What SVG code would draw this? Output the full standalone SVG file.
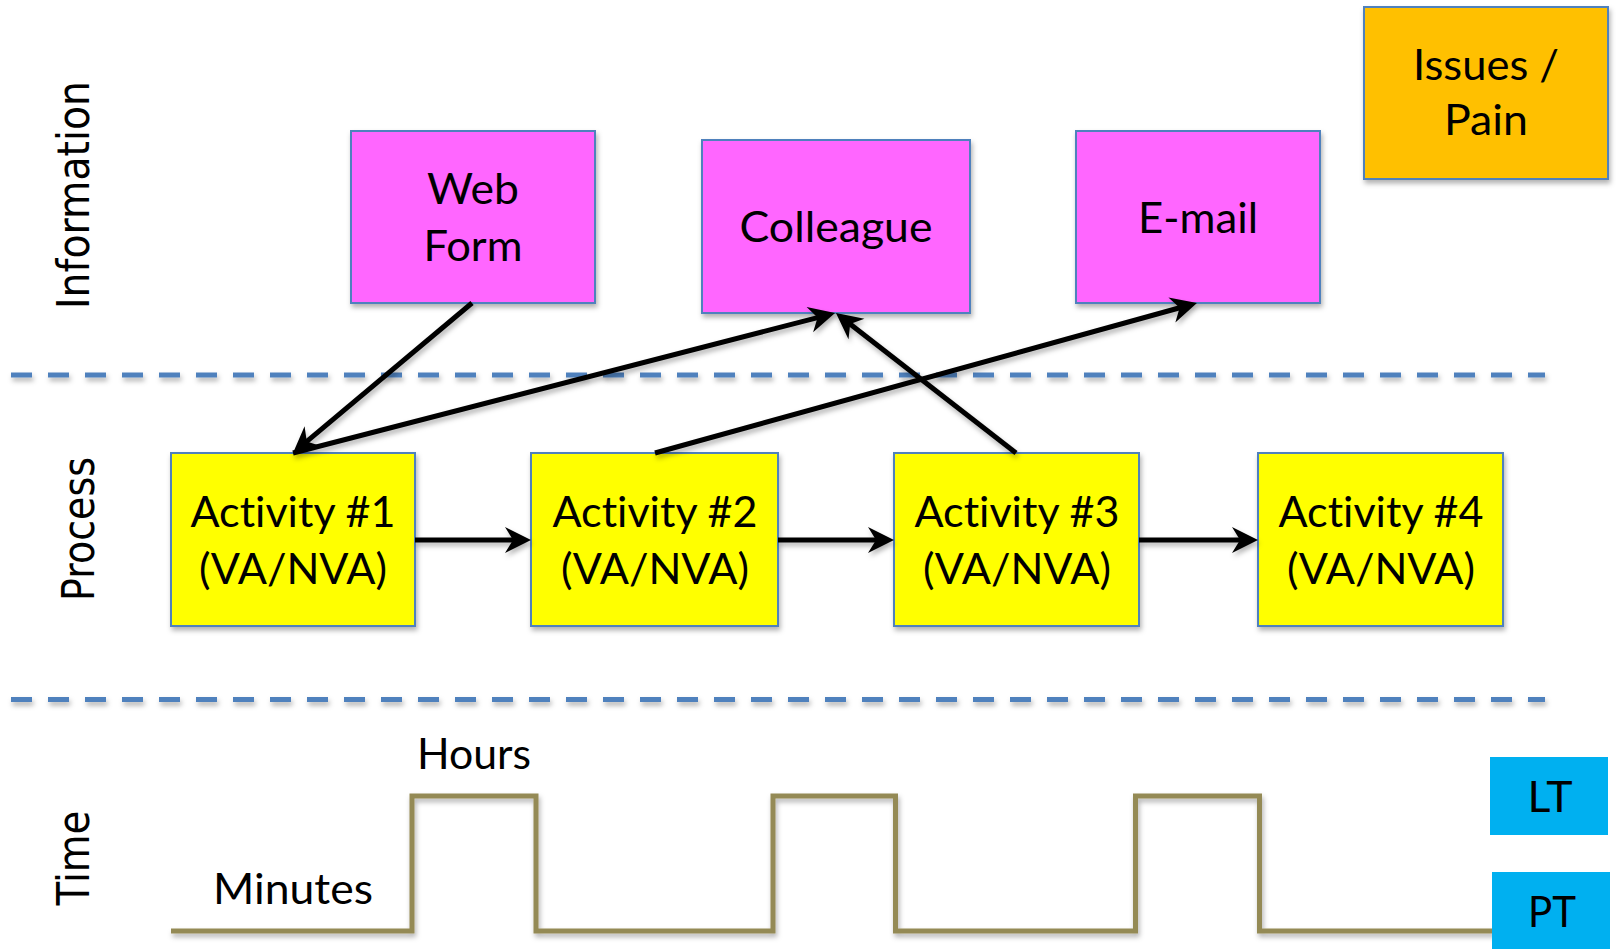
<svg xmlns="http://www.w3.org/2000/svg" width="1618" height="949" viewBox="0 0 1618 949">
  <style>
    .box { stroke: #4F81BD; stroke-width: 2; filter: url(#shadow); }
    .info { fill: #FF66FF; }
    .act { fill: #FFFF00; }
    .issue { fill: #FFC000; }
    .tbox { fill: #00B0F0; }
    .lbl { font-family: Lato, "Liberation Sans", sans-serif; font-size: 43px; fill: #000; text-anchor: middle; font-variant-ligatures: none; }
    .lane { font-family: "DejaVu Sans", Verdana, sans-serif; font-size: 45px; fill: #000; text-anchor: middle; }
    .sep { stroke: #4F81BD; stroke-width: 5; stroke-dasharray: 21 16; fill: none; }
    .conn { stroke: #000; stroke-width: 5; fill: none; marker-end: url(#arrow); }
    .wave { stroke: #948A54; stroke-width: 5; fill: none; }
  </style>
  <defs>
    <filter id="shadow" x="-10%" y="-10%" width="120%" height="140%">
      <feDropShadow dx="1.5" dy="3.5" stdDeviation="2.5" flood-color="#000" flood-opacity="0.3"/>
    </filter>
    <!-- canvas-sized region so zero-height lines still get a shadow -->
    <filter id="lineShadow" filterUnits="userSpaceOnUse" x="0" y="0" width="1618" height="949">
      <feDropShadow dx="1.5" dy="3.5" stdDeviation="2.5" flood-color="#000" flood-opacity="0.3"/>
    </filter>
    <marker id="arrow" markerUnits="userSpaceOnUse" orient="auto" refX="-15" refY="0" overflow="visible">
      <path d="M0,0 L-26,-13 L-18,0 L-26,13 Z" fill="#000"/>
    </marker>
  </defs>

  <!-- swimlane titles -->
  <g id="lane-information"><text class="lane" transform="translate(89,195) rotate(-90)" textLength="228" lengthAdjust="spacingAndGlyphs">Information</text></g>
  <g id="lane-process"><text class="lane" transform="translate(94,529) rotate(-90)" textLength="144" lengthAdjust="spacingAndGlyphs">Process</text></g>
  <g id="lane-time"><text class="lane" transform="translate(89,858) rotate(-90)" textLength="95" lengthAdjust="spacingAndGlyphs">Time</text></g>

  <!-- lane separators -->
  <g id="separators" filter="url(#lineShadow)">
    <line class="sep" x1="11" y1="375" x2="1545" y2="375"/>
    <line class="sep" x1="11" y1="699.5" x2="1545" y2="699.5"/>
  </g>

  <!-- information sources -->
  <g id="web-form">
    <rect class="box info" x="351" y="131" width="244" height="172"/>
    <text class="lbl" x="473" y="204" textLength="92" lengthAdjust="spacingAndGlyphs">Web</text>
    <text class="lbl" x="473" y="261" textLength="99" lengthAdjust="spacingAndGlyphs">Form</text>
  </g>
  <g id="colleague">
    <rect class="box info" x="702" y="140" width="268" height="173"/>
    <text class="lbl" x="836" y="242" textLength="193" lengthAdjust="spacingAndGlyphs">Colleague</text>
  </g>
  <g id="email">
    <rect class="box info" x="1076" y="131" width="244" height="172"/>
    <text class="lbl" x="1198" y="233" textLength="120" lengthAdjust="spacingAndGlyphs">E-mail</text>
  </g>
  <g id="issues">
    <rect class="box issue" x="1364" y="7" width="244" height="172"/>
    <text class="lbl" x="1486" y="80" textLength="146" lengthAdjust="spacingAndGlyphs">Issues /</text>
    <text class="lbl" x="1486" y="135" textLength="84" lengthAdjust="spacingAndGlyphs">Pain</text>
  </g>

  <!-- process activities -->
  <g id="activity-1">
    <rect class="box act" x="171" y="453" width="244" height="173"/>
    <text class="lbl" x="293" y="527" textLength="205" lengthAdjust="spacingAndGlyphs">Activity #1</text>
    <text class="lbl" x="293" y="584" textLength="188" lengthAdjust="spacingAndGlyphs">(VA/NVA)</text>
  </g>
  <g id="activity-2">
    <rect class="box act" x="531" y="453" width="247" height="173"/>
    <text class="lbl" x="655" y="527" textLength="205" lengthAdjust="spacingAndGlyphs">Activity #2</text>
    <text class="lbl" x="655" y="584" textLength="188" lengthAdjust="spacingAndGlyphs">(VA/NVA)</text>
  </g>
  <g id="activity-3">
    <rect class="box act" x="894" y="453" width="245" height="173"/>
    <text class="lbl" x="1017" y="527" textLength="205" lengthAdjust="spacingAndGlyphs">Activity #3</text>
    <text class="lbl" x="1017" y="584" textLength="188" lengthAdjust="spacingAndGlyphs">(VA/NVA)</text>
  </g>
  <g id="activity-4">
    <rect class="box act" x="1258" y="453" width="245" height="173"/>
    <text class="lbl" x="1381" y="527" textLength="205" lengthAdjust="spacingAndGlyphs">Activity #4</text>
    <text class="lbl" x="1381" y="584" textLength="188" lengthAdjust="spacingAndGlyphs">(VA/NVA)</text>
  </g>

  <!-- connectors (lines stop short; marker carries the tip forward) -->
  <g id="connectors" filter="url(#lineShadow)">
    <line class="conn" x1="472" y1="303" x2="304.5" y2="443.4"/>
    <line class="conn" x1="293" y1="453" x2="820.5" y2="316.8"/>
    <line class="conn" x1="655" y1="453" x2="1182.5" y2="307"/>
    <line class="conn" x1="1016" y1="453" x2="847.8" y2="322.2"/>
    <line class="conn" x1="415" y1="540" x2="516" y2="540"/>
    <line class="conn" x1="778" y1="540" x2="879" y2="540"/>
    <line class="conn" x1="1139" y1="540" x2="1243" y2="540"/>
  </g>

  <!-- time line: waiting (minutes) vs. working (hours) -->
  <g id="timeline">
    <polyline class="wave" filter="url(#lineShadow)" points="171,931 412,931 412,796 536,796 536,931 773,931 773,796 895.5,796 895.5,931 1135.5,931 1135.5,796 1259.5,796 1259.5,931 1495,931"/>
    <text class="lbl" x="474" y="769" textLength="114" lengthAdjust="spacingAndGlyphs">Hours</text>
    <text class="lbl" x="293" y="904" textLength="160" lengthAdjust="spacingAndGlyphs">Minutes</text>
  </g>
  <g id="lt">
    <rect class="tbox" x="1490" y="757" width="118" height="78"/>
    <text class="lbl" x="1550" y="811.5" textLength="45" lengthAdjust="spacingAndGlyphs">LT</text>
  </g>
  <g id="pt">
    <rect class="tbox" x="1492" y="872" width="118" height="77"/>
    <text class="lbl" x="1552" y="926.5" textLength="48" lengthAdjust="spacingAndGlyphs">PT</text>
  </g>
</svg>
